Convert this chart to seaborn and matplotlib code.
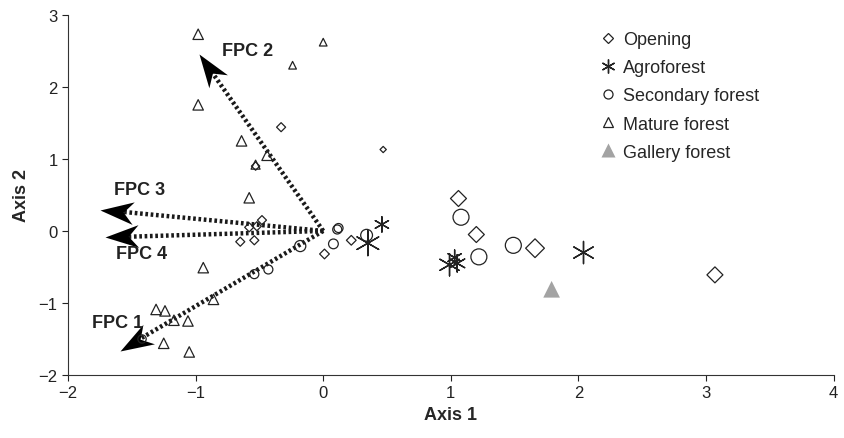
import numpy as np
import matplotlib
matplotlib.use("Agg")
import matplotlib.pyplot as plt
import seaborn as sns
from matplotlib.lines import Line2D
from matplotlib.path import Path
from matplotlib.markers import MarkerStyle
from matplotlib.transforms import Affine2D

# Opening (open diamonds)
open_x = [-0.33, 0.47, -0.53, -0.48, -0.52, -0.58, -0.65, -0.54, 0.01, 0.22, 1.06, 1.20, 1.66, 3.07]
open_y = [1.44, 1.13, 0.90, 0.15, 0.065, 0.05, -0.15, -0.13, -0.32, -0.13, 0.45, -0.05, -0.24, -0.61]
open_w = [6.5, 4.5, 6, 6.5, 6.5, 6.5, 6.5, 6.5, 7, 7, 11.5, 11.5, 13.5, 11.5]

# Agroforest (asterisks)
agro_x = [0.46, 0.35, 1.03, 0.99, 1.05, 2.04]
agro_y = [0.09, -0.17, -0.37, -0.47, -0.45, -0.30]
agro_w = [11, 18, 11, 16, 12.5, 16]

# Secondary forest (open circles)
sec_x = [0.11, 0.12, 0.08, -0.18, -0.43, -0.54, -1.42, 0.34, 1.08, 1.22, 1.49]
sec_y = [0.02, 0.04, -0.18, -0.21, -0.535, -0.60, -1.50, -0.06, 0.19, -0.36, -0.20]
sec_w = [6.5, 6.5, 7, 8, 6.5, 6.5, 6, 8.5, 11.5, 11.5, 11.5]

# Mature forest (open triangles)
mat_x = [-0.98, 0.00, -0.24, -0.98, -0.64, -0.44, -0.53, -0.58, -0.94, -0.86,
         -1.31, -1.24, -1.17, -1.06, -1.25, -1.05]
mat_y = [2.73, 2.62, 2.30, 1.75, 1.25, 1.05, 0.92, 0.46, -0.51, -0.95,
         -1.09, -1.11, -1.24, -1.25, -1.56, -1.68]
mat_w = [7.5, 5.5, 5.5, 7.5, 7.5, 7.5, 6.5, 7.5, 7.5, 7.5, 7.5, 7.5, 7.5, 7.5, 7.5, 7.5]

# Gallery forest (filled grey triangle)
gal_x = [1.79]
gal_y = [-0.81]
gal_w = [12]

# FPC vectors
fpc_names = ["FPC 1", "FPC 2", "FPC 3", "FPC 4"]
fpc_x = [-1.59, -0.97, -1.75, -1.71]
fpc_y = [-1.66, 2.45, 0.295, -0.09]
fpc_lab_x = [-1.61, -0.59, -1.44, -1.42]
fpc_lab_y = [-1.27, 2.50, 0.57, -0.32]

sns.set_style("ticks")
plt.rcParams["font.family"] = ["Liberation Sans", "DejaVu Sans"]

fig = plt.figure(figsize=(8.45, 4.39), dpi=100)
ax = fig.add_axes([0.0805, 0.1435, 0.906, 0.8205])
ax.set_xlim(-2, 4)
ax.set_ylim(-2, 3)

# stealth arrow head, tip at origin pointing to +x
head = Path([(0, 0), (-1, 0.34), (-0.7, 0), (-1, -0.34), (0, 0)],
            [Path.MOVETO, Path.LINETO, Path.LINETO, Path.LINETO, Path.CLOSEPOLY])

for x, y in zip(fpc_x, fpc_y):
    ax.plot([0, x * 0.93], [0, y * 0.93], ls=(0, (0.6, 0.6)), lw=3.2, color="#1a1a1a",
            solid_capstyle="butt", zorder=1)
    p0 = ax.transData.transform((0, 0))
    p1 = ax.transData.transform((x, y))
    ang = np.degrees(np.arctan2(p1[1] - p0[1], p1[0] - p0[0]))
    m = MarkerStyle(head, transform=Affine2D().rotate_deg(ang))
    ax.plot([x], [y], marker=m, ms=48, color="black", mew=0, ls="", zorder=2)
for name, lx, ly in zip(fpc_names, fpc_lab_x, fpc_lab_y):
    ax.text(lx, ly, name, fontsize=13, fontweight="bold", ha="center", va="center",
            color="#222222")

ek = dict(facecolor="none", edgecolor="#222222", linewidth=0.9, zorder=3, legend=False)
sns.scatterplot(x=open_x, y=open_y, marker="D", s=np.array(open_w) ** 2 / 2, ax=ax, **ek)
sns.scatterplot(x=sec_x, y=sec_y, marker="o", s=np.array(sec_w) ** 2, ax=ax, **ek)
sns.scatterplot(x=mat_x, y=mat_y, marker="^", s=np.array(mat_w) ** 2, ax=ax, **ek)
sns.scatterplot(x=agro_x, y=agro_y, marker=(6, 2, 0), s=np.array(agro_w) ** 2,
                color="#222222", linewidth=1.0, zorder=3, legend=False, ax=ax)
sns.scatterplot(x=gal_x, y=gal_y, marker="^", s=np.array(gal_w) ** 2,
                color="#a3a3a3", edgecolor="none", zorder=3, legend=False, ax=ax)

ax.set_xticks([-2, -1, 0, 1, 2, 3, 4])
ax.set_yticks([-2, -1, 0, 1, 2, 3])
ax.set_xticklabels(["\u22122", "\u22121", "0", "1", "2", "3", "4"])
ax.set_yticklabels(["\u22122", "\u22121", "0", "1", "2", "3"])
ax.tick_params(direction="out", length=4, width=0.8, labelsize=12, colors="#222222")
for sp in ["left", "bottom"]:
    ax.spines[sp].set_linewidth(0.8)
    ax.spines[sp].set_color("#333333")
sns.despine(ax=ax)
ax.set_xlabel("Axis 1", fontsize=13, fontweight="bold", labelpad=4)
ax.set_ylabel("Axis 2", fontsize=13, fontweight="bold", labelpad=6)

handles = [
    Line2D([], [], ls="", marker="D", ms=5, mfc="none", mec="#222222", mew=0.9),
    Line2D([], [], ls="", marker=(6, 2, 0), ms=10, color="#222222", mew=1.0),
    Line2D([], [], ls="", marker="o", ms=6.5, mfc="none", mec="#222222", mew=0.9),
    Line2D([], [], ls="", marker="^", ms=7, mfc="none", mec="#222222", mew=0.9),
    Line2D([], [], ls="", marker="^", ms=10, mfc="#a3a3a3", mec="none"),
]
labels = ["Opening", "Agroforest", "Secondary forest", "Mature forest", "Gallery forest"]
ax.legend(handles, labels, loc="upper left", bbox_to_anchor=(0.687, 0.975), frameon=False,
          fontsize=13, handlelength=0.8, handletextpad=0.4, labelspacing=0.62,
          borderaxespad=0)

fig.savefig("out.png", dpi=100)
